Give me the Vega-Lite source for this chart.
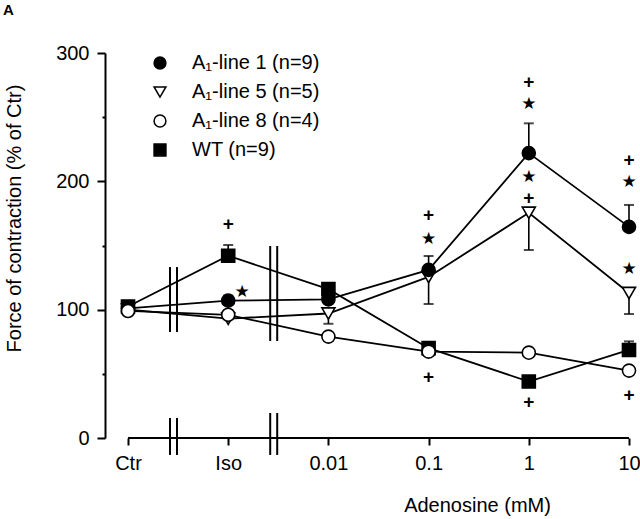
{
  "$schema": "https://vega.github.io/schema/vega-lite/v6.json",
  "width": 524,
  "height": 385,
  "autosize": {"type": "none"},
  "padding": {"left": 105, "top": 53, "right": 11, "bottom": 81},
  "background": "white",
  "title": {"text": "A", "anchor": "start", "frame": "group", "font": "Liberation Sans", "fontSize": 15, "fontWeight": "bold", "color": "black", "dx": -102, "dy": -25, "offset": 0},
  "config": {
    "view": {"stroke": null},
    "axis": {
      "labelFont": "Liberation Sans", "labelFontSize": 20, "labelColor": "black",
      "titleFont": "Liberation Sans", "titleFontSize": 20, "titleFontWeight": "normal", "titleColor": "black",
      "domainColor": "black", "tickColor": "black", "domainWidth": 2, "tickWidth": 2, "grid": false
    }
  },
  "datasets": {
    "means": [
      {"s": "A₁-line 5 (n=5)", "c": "Ctr", "v": 100},
      {"s": "A₁-line 5 (n=5)", "c": "Iso", "v": 93},
      {"s": "A₁-line 5 (n=5)", "c": "0.01", "v": 97},
      {"s": "A₁-line 5 (n=5)", "c": "0.1", "v": 125.5},
      {"s": "A₁-line 5 (n=5)", "c": "1", "v": 175.5},
      {"s": "A₁-line 5 (n=5)", "c": "10", "v": 113},
      {"s": "WT (n=9)", "c": "Ctr", "v": 102.5},
      {"s": "WT (n=9)", "c": "Iso", "v": 142},
      {"s": "WT (n=9)", "c": "0.01", "v": 116},
      {"s": "WT (n=9)", "c": "0.1", "v": 70},
      {"s": "WT (n=9)", "c": "1", "v": 44},
      {"s": "WT (n=9)", "c": "10", "v": 68.6},
      {"s": "A₁-line 1 (n=9)", "c": "Ctr", "v": 101},
      {"s": "A₁-line 1 (n=9)", "c": "Iso", "v": 107},
      {"s": "A₁-line 1 (n=9)", "c": "0.01", "v": 108},
      {"s": "A₁-line 1 (n=9)", "c": "0.1", "v": 131},
      {"s": "A₁-line 1 (n=9)", "c": "1", "v": 222},
      {"s": "A₁-line 1 (n=9)", "c": "10", "v": 164.5},
      {"s": "A₁-line 8 (n=4)", "c": "Ctr", "v": 99},
      {"s": "A₁-line 8 (n=4)", "c": "Iso", "v": 96},
      {"s": "A₁-line 8 (n=4)", "c": "0.01", "v": 79},
      {"s": "A₁-line 8 (n=4)", "c": "0.1", "v": 67.3},
      {"s": "A₁-line 8 (n=4)", "c": "1", "v": 66.5},
      {"s": "A₁-line 8 (n=4)", "c": "10", "v": 52.5}
    ],
    "errs": [
      {"s": "A₁-line 1 (n=9)", "c": "Iso", "v": 107, "e": 111},
      {"s": "A₁-line 1 (n=9)", "c": "0.1", "v": 131, "e": 141.8},
      {"s": "A₁-line 1 (n=9)", "c": "1", "v": 222, "e": 245.2},
      {"s": "A₁-line 1 (n=9)", "c": "10", "v": 164.5, "e": 181.6},
      {"s": "A₁-line 5 (n=5)", "c": "0.01", "v": 97, "e": 89},
      {"s": "A₁-line 5 (n=5)", "c": "0.1", "v": 125.5, "e": 104.4},
      {"s": "A₁-line 5 (n=5)", "c": "1", "v": 175.5, "e": 146.5},
      {"s": "A₁-line 5 (n=5)", "c": "10", "v": 113, "e": 96.6},
      {"s": "WT (n=9)", "c": "Iso", "v": 142, "e": 150.4},
      {"s": "WT (n=9)", "c": "10", "v": 68.6, "e": 75.3}
    ],
    "plus": [
      {"c": "Iso", "v": 166.8},
      {"c": "0.1", "v": 173.8},
      {"c": "0.1", "v": 47.8},
      {"c": "1", "v": 277.5},
      {"c": "1", "v": 187},
      {"c": "1", "v": 28},
      {"c": "10", "v": 216.5},
      {"c": "10", "v": 33.5}
    ],
    "stars": [
      {"c": "0.1", "v": 154.8},
      {"c": "1", "v": 260.5},
      {"c": "1", "v": 203.5},
      {"c": "10", "v": 199.5},
      {"c": "10", "v": 131.6}
    ],
    "starsShifted": [
      {"c": "Iso", "v": 114}
    ],
    "breaks": [
      {"c": "Ctr", "lo": -13.2, "hi": 15.6},
      {"c": "Ctr", "lo": 82.6, "hi": 133.2},
      {"c": "Iso", "lo": -13.2, "hi": 19.5},
      {"c": "Iso", "lo": 75.6, "hi": 149.6}
    ]
  },
  "layer": [
    {
      "data": {"name": "means"},
      "mark": {"type": "line", "color": "black", "strokeWidth": 1.8},
      "encoding": {
        "x": {
          "field": "c", "type": "ordinal",
          "scale": {"type": "point", "domain": ["Ctr", "Iso", "0.01", "0.1", "1", "10"], "padding": 0.1148, "align": 1},
          "axis": {"title": "Adenosine (mM)", "domain": false, "tickSize": 7, "labelPadding": 8, "labelAngle": 0, "titleX": 372, "titleY": 73, "titleAlign": "center", "titleBaseline": "alphabetic", "titleAnchor": null}
        },
        "y": {
          "field": "v", "type": "quantitative",
          "scale": {"domain": [0, 300], "nice": false, "zero": true},
          "axis": {
            "title": "Force of contraction (% of Ctr)",
            "values": [0, 50, 100, 150, 200, 250, 300],
            "labelExpr": "datum.value % 100 === 0 ? datum.label : ''",
            "tickSize": {"condition": {"test": "datum.value % 100 === 0", "value": 8}, "value": 3},
            "labelPadding": 8,
            "titleX": -85, "titleY": 165, "titleAngle": -90, "titleAlign": "center", "titleBaseline": "alphabetic", "titleAnchor": null
          }
        },
        "detail": {"field": "s"}
      }
    },
    {
      "data": {"values": [{}]},
      "mark": {"type": "rule", "color": "black", "strokeWidth": 2},
      "encoding": {
        "x": {"datum": "Ctr"},
        "x2": {"datum": "10"},
        "y": {"datum": 0}
      }
    },
    {
      "data": {"name": "breaks"},
      "mark": {"type": "rule", "color": "black", "strokeWidth": 2, "xOffset": 42},
      "encoding": {
        "x": {"field": "c", "type": "ordinal"},
        "y": {"field": "lo", "type": "quantitative"},
        "y2": {"field": "hi"}
      }
    },
    {
      "data": {"name": "breaks"},
      "mark": {"type": "rule", "color": "black", "strokeWidth": 2, "xOffset": 49},
      "encoding": {
        "x": {"field": "c", "type": "ordinal"},
        "y": {"field": "lo", "type": "quantitative"},
        "y2": {"field": "hi"}
      }
    },
    {
      "data": {"name": "errs"},
      "mark": {"type": "rule", "color": "black", "strokeWidth": 1.6},
      "encoding": {
        "x": {"field": "c", "type": "ordinal"},
        "y": {"field": "v", "type": "quantitative"},
        "y2": {"field": "e"}
      }
    },
    {
      "data": {"name": "errs"},
      "mark": {"type": "tick", "color": "black", "size": 10, "thickness": 2, "orient": "horizontal"},
      "encoding": {
        "x": {"field": "c", "type": "ordinal"},
        "y": {"field": "e", "type": "quantitative"}
      }
    },
    {
      "data": {"name": "means"},
      "mark": {"type": "point", "filled": true, "stroke": "black", "strokeWidth": 1.6, "size": 170, "opacity": 1},
      "encoding": {
        "x": {"field": "c", "type": "ordinal"},
        "y": {"field": "v", "type": "quantitative"},
        "shape": {
          "field": "s", "type": "nominal",
          "scale": {"domain": ["A₁-line 1 (n=9)", "A₁-line 5 (n=5)", "A₁-line 8 (n=4)", "WT (n=9)"], "range": ["circle", "triangle-down", "circle", "square"]},
          "legend": {"title": null, "orient": "none", "legendX": 45, "legendY": 0, "padding": 0, "labelFont": "Liberation Sans", "labelFontSize": 20, "labelColor": "black", "symbolSize": 140, "rowPadding": 9, "labelOffset": 22,
            "encode": {"symbols": {"update": {"stroke": {"value": "black"}, "strokeWidth": {"value": 1.6}}}}}
        },
        "fill": {
          "field": "s", "type": "nominal",
          "scale": {"domain": ["A₁-line 1 (n=9)", "A₁-line 5 (n=5)", "A₁-line 8 (n=4)", "WT (n=9)"], "range": ["black", "white", "white", "black"]},
          "legend": {"title": null, "orient": "none", "legendX": 45, "legendY": 0, "padding": 0, "labelFont": "Liberation Sans", "labelFontSize": 20, "labelColor": "black", "symbolSize": 140, "rowPadding": 9, "labelOffset": 22,
            "encode": {"symbols": {"update": {"stroke": {"value": "black"}, "strokeWidth": {"value": 1.6}}}}}
        }
      }
    },
    {
      "data": {"name": "plus"},
      "mark": {"type": "text", "text": "+", "font": "Liberation Sans", "fontSize": 19, "fontWeight": "bold", "color": "black", "align": "center", "baseline": "middle"},
      "encoding": {
        "x": {"field": "c", "type": "ordinal"},
        "y": {"field": "v", "type": "quantitative"}
      }
    },
    {
      "data": {"name": "stars"},
      "mark": {"type": "text", "text": "★", "font": "DejaVu Sans", "fontSize": 17, "color": "black", "align": "center", "baseline": "middle"},
      "encoding": {
        "x": {"field": "c", "type": "ordinal"},
        "y": {"field": "v", "type": "quantitative"}
      }
    },
    {
      "data": {"name": "starsShifted"},
      "mark": {"type": "text", "text": "★", "font": "DejaVu Sans", "fontSize": 17, "color": "black", "align": "center", "baseline": "middle", "dx": 14},
      "encoding": {
        "x": {"field": "c", "type": "ordinal"},
        "y": {"field": "v", "type": "quantitative"}
      }
    }
  ]
}
